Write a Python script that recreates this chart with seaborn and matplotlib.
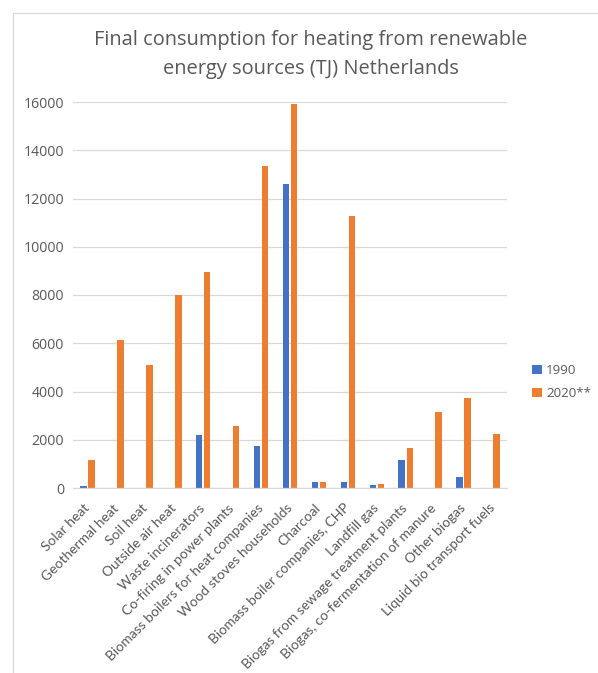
import matplotlib
matplotlib.use("Agg")
import matplotlib.pyplot as plt
from matplotlib.lines import Line2D
import seaborn as sns
import pandas as pd

categories = [
    "Solar heat", "Geothermal heat", "Soil heat", "Outside air heat",
    "Waste incinerators", "Co-firing in power plants",
    "Biomass boilers for heat companies", "Wood stoves households",
    "Charcoal", "Biomass boiler companies, CHP", "Landfill gas",
    "Biogas from sewage treatment plants",
    "Biogas, co-fermentation of manure", "Other biogas",
    "Liquid bio transport fuels",
]
values_1990 = [100, 0, 0, 0, 2190, 0, 1730, 12600, 260, 235, 140, 1150, 0, 455, 0]
values_2020 = [1175, 6150, 5110, 8010, 8960, 2555, 13350, 15900, 260, 11280, 165, 1660, 3150, 3745, 2240]
series_names = ["1990", "2020**"]
yticks = [0, 2000, 4000, 6000, 8000, 10000, 12000, 14000, 16000]

df = pd.DataFrame({
    "category": categories * 2,
    "series": [series_names[0]] * len(categories) + [series_names[1]] * len(categories),
    "value": values_1990 + values_2020,
})

sns.set_theme(style="white")
plt.rcParams["font.family"] = ["Open Sans", "DejaVu Sans"]
txt = "#595959"
fs = 10.2

fig = plt.figure(figsize=(5.98, 6.73), dpi=100)
W, H = 598, 673
ax = fig.add_axes([73 / W, (H - 488) / H, (507 - 73) / W, (488 - 102) / H])

palette = {"1990": "#4472C4", "2020**": "#ED7D31"}
sns.barplot(data=df, x="category", y="value", hue="series", order=categories,
            hue_order=series_names, palette=palette, width=0.56, gap=0.2,
            saturation=1, linewidth=0, ax=ax, legend=True)

ax.set_ylim(0, 16000)
ax.set_xlim(-0.5, len(categories) - 0.5)
ax.set_yticks(yticks)
ax.set_yticklabels([str(v) for v in yticks], fontsize=fs, color=txt)
ax.set_xlabel("")
ax.set_ylabel("")
ax.yaxis.grid(True, color="#D9D9D9", linewidth=0.9)
ax.set_axisbelow(True)
for s in ["top", "right", "left"]:
    ax.spines[s].set_visible(False)
ax.spines["bottom"].set_color("#D9D9D9")
ax.spines["bottom"].set_linewidth(0.9)
ax.tick_params(axis="both", length=0)
ax.tick_params(axis="y", pad=6.5)
ax.set_xticks(range(len(categories)))
ax.set_xticklabels(categories, rotation=45, ha="right", va="center",
                   rotation_mode="anchor", fontsize=10, color=txt,
                   family=["Lato", "DejaVu Sans"])
ax.tick_params(axis="x", pad=13)

leg = ax.legend(loc="center left", bbox_to_anchor=(527 / W, (H - 382) / H),
                bbox_transform=fig.transFigure, frameon=False,
                fontsize=9.6, handlelength=0.72, handleheight=0.72,
                handletextpad=0.3, labelspacing=0.75, borderaxespad=0)
for t in leg.get_texts():
    t.set_color(txt)

fig.text(311 / W, (H - 40) / H, "Final consumption for heating from renewable",
         ha="center", va="center", fontsize=14.4, color=txt)
fig.text(311 / W, (H - 69) / H, "energy sources (TJ) Netherlands",
         ha="center", va="center", fontsize=14.4, color=txt)

# chart frame
fig.add_artist(Line2D([12.5 / W, 12.5 / W], [0, (H - 12.5) / H], transform=fig.transFigure,
                      color="#D9D9D9", linewidth=0.9))
fig.add_artist(Line2D([12.5 / W, 1], [(H - 12.5) / H, (H - 12.5) / H], transform=fig.transFigure,
                      color="#D9D9D9", linewidth=0.9))

fig.savefig("out.png", dpi=100)
